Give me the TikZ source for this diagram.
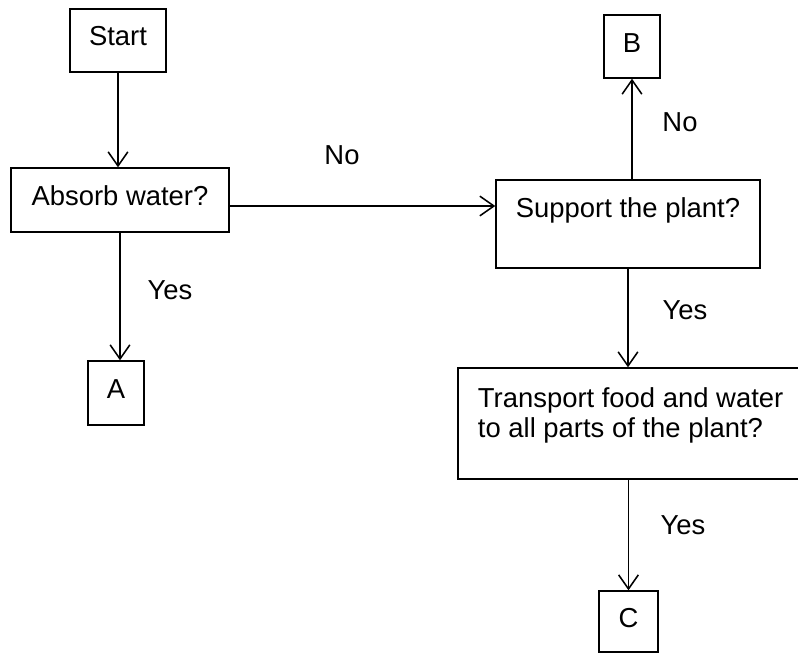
\documentclass[tikz,border=0pt]{standalone}
\usepackage{fontspec}
\setmainfont{Liberation Sans}
\usetikzlibrary{arrows.meta}
\tikzset{
	box/.style = {draw, line width = 1pt, inner ysep = 0pt, inner xsep = 0pt, font = \fontsize{19.5}{22}\selectfont},
	lab/.style = {font = \fontsize{19.5}{22}\selectfont},
	arr/.style = {line width = 1.3pt, -{Straight Barb[length = 10pt, width = 14pt, line width = 1.1pt]}}
}

\begin{document}
\begin{tikzpicture}[x = 0.025cm, y = -0.025cm]
		\useasboundingbox (0, 0) rectangle (798, 653);
		\clip (0, 0) rectangle (798, 653);
		%%%%%%%%%%%%%
		\node[box, minimum width = 2.4cm, text height = 0.9cm, text depth = 0.675cm] (start) at (118, 40.5) {Start};
		\node[box, minimum width = 5.45cm, text height = 0.925cm, text depth = 0.675cm] (q1) at (120, 200) {Absorb water?};
		\node[box, minimum width = 6.6cm, text height = 0.925cm, text depth = 1.275cm] (q2) at (628, 224) {Support the plant?};
		\node[box, inner xsep = 0.5cm, text height = 0.975cm, text depth = 1.8cm] (q3) at (648, 423.5) {\parbox[t]{8.5cm}{Transport food and water\\to all parts of the plant?}};
		\node[box, minimum width = 1.4cm, text height = 0.925cm, text depth = 0.675cm] (a) at (116, 393) {A};
		\node[box, minimum width = 1.4cm, text height = 0.925cm, text depth = 0.65cm] (b) at (632, 46.5) {B};
		\node[box, minimum width = 1.475cm, text height = 0.9cm, text depth = 0.625cm] (c) at (628.5, 621.5) {C};
		%%%%%%%%%%%%%
		\node[lab] (no1) at (342, 155) {No};
		\node[lab] (yes1) at (170, 290) {Yes};
		\node[lab] (no2) at (680, 122) {No};
		\node[lab] (yes2) at (685, 310) {Yes};
		\node[lab] (yes3) at (683, 525) {Yes};
		%%%%%%%%%%%%%
		\coordinate (out1) at ([yshift = -0.15cm]q1.east);
		\draw[arr] (start.south) -- (start.south |- q1.north);
		\draw[arr] (out1) -- (out1 -| q2.west);
		\draw[arr] (q1.south) -- (q1.south |- a.north);
		\draw[arr] (b.south |- q2.north) -- (b.south);
		\draw[arr] (q2.south) -- (q2.south |- q3.north);
		\draw[arr] (c.north |- q3.south) -- (c.north);
\end{tikzpicture}
\end{document}
